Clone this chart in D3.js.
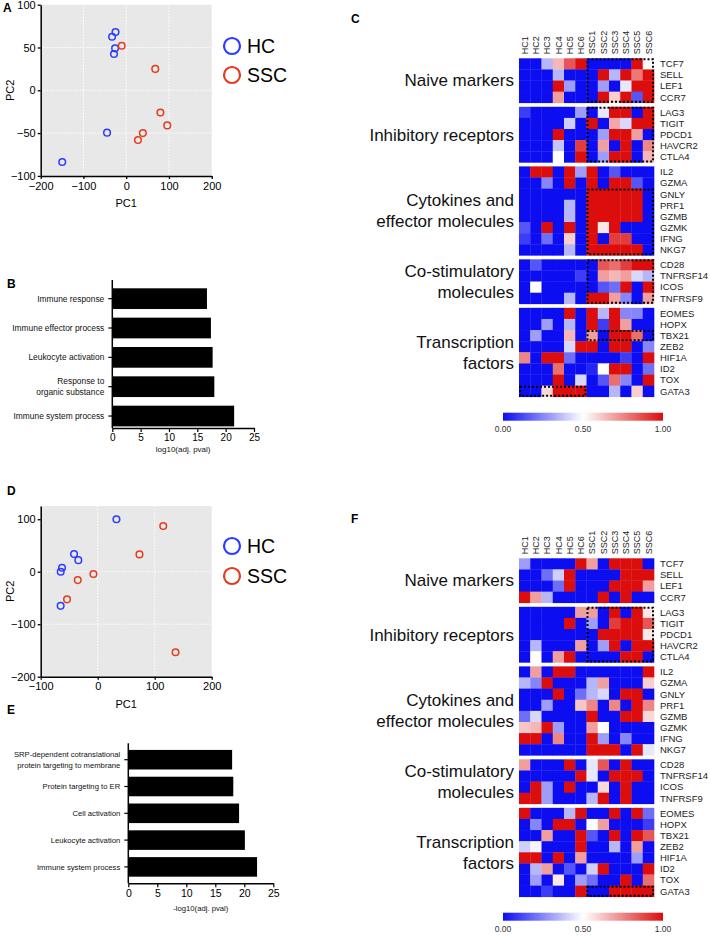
<!DOCTYPE html>
<html><head><meta charset="utf-8">
<script src="https://cdn.jsdelivr.net/npm/d3@7"></script>
<style>
body{margin:0;background:#fff}
svg{display:block;font-family:"Liberation Sans",Arial,Helvetica,sans-serif}
</style>
</head><body>
<svg id="fig" width="710" height="936"></svg>
<script>
// ---------------- DATA ----------------
// PCA panel A  [PC1, PC2]
const pcaA_HC  = [[-25,68],[-33,62.6],[-26,49],[-28.5,42.4],[-44.8,-49.5],[-149.6,-83.8]];
const pcaA_SSC = [[-10.5,52],[68,25],[80,-26],[96,-41],[39,-50],[27.5,-58]];
// PCA panel D
const pcaD_HC  = [[32.9,100],[-41.5,33.7],[-34,22],[-62.6,7.6],[-64.9,0],[-65,-65]];
const pcaD_SSC = [[115,87],[73.3,33],[-7.5,-4.4],[-35,-16],[-53.8,-52.6],[136.6,-153.5]];
const pcaA_xTicks = [-200,-100,0,100,200];
const pcaA_yTicks = [-100,-50,0,50,100];
const pcaD_xTicks = [-100,0,100,200];
const pcaD_yTicks = [-200,-100,0,100];
const legendLabels = ["HC","SSC"];

// GO bar charts
const termsB  = ["Immune response","Immune effector process","Leukocyte activation","Response to\norganic substance","Immune system process"];
const valuesB = [16.7,17.4,17.7,18.0,21.5];
const termsE  = ["SRP-dependent cotranslational\nprotein targeting to membrane","Protein targeting to ER","Cell activation","Leukocyte activation","Immune system process"];
const valuesE = [17.9,18.1,19.1,20.1,22.2];
const barTicks = [0,5,10,15,20,25];

// Heatmaps
const samples = ["HC1","HC2","HC3","HC4","HC5","HC6","SSC1","SSC2","SSC3","SSC4","SSC5","SSC6"];
const groupLabels = [["Naive markers"],["Inhibitory receptors"],["Cytokines and","effector molecules"],["Co-stimulatory","molecules"],["Transcription","factors"]];
const groupGenes = [
  ["TCF7","SELL","LEF1","CCR7"],
  ["LAG3","TIGIT","PDCD1","HAVCR2","CTLA4"],
  ["IL2","GZMA","GNLY","PRF1","GZMB","GZMK","IFNG","NKG7"],
  ["CD28","TNFRSF14","ICOS","TNFRSF9"],
  ["EOMES","HOPX","TBX21","ZEB2","HIF1A","ID2","TOX","GATA3"]
];
const heatC = [
  [0,0,0.35,0.65,0.85,1, 0,0,0,0,1,0.5],
  [0,0,0,0.35,0,0, 0,1,0.35,1,0.78,1],
  [0,0,0,1,0.3,0, 0,0.3,0,0.45,1,1],
  [0,0,0,0.7,0,0, 0,1,0.6,1,0.15,1],
  [0.1,0,0,0,0,0.3, 0,0.45,1,1,0,1],
  [0,0,0,0,0.4,0, 1,0,0.68,0.42,1,1],
  [0,0,0,1,0,0, 0,0.3,1,1,0.7,0],
  [0,0,0,0.38,0,0.9, 0,0.7,0,1,0,0.75],
  [0,0,0,0.5,0,1, 0,0.3,1,1,0,0.65],
  [0,1,1,0,1,0.3, 1,0,0.15,0,0,0],
  [0,0,0.25,0,1,0, 1,0,1,1,0.15,0],
  [0,0,0,0,0,0, 1,1,1,1,1,0],
  [0,0,0,0,0.35,0, 1,1,1,1,1,0],
  [0,0,0,0,0.35,0, 1,1,1,1,1,0],
  [0.15,0,1,0,1,0, 1,0.55,1,0,0,0],
  [0.1,0,0.2,0,0.6,0, 1,0,0.9,0.9,0,0],
  [0,0,0,0,0.35,0, 1,1,1,1,1,0],
  [0,0.15,0,0,0,0, 0,0.85,0.8,0.9,1,1],
  [0,0,0,0,0,0.1, 0,0.7,0.65,0.7,0.42,0.35],
  [0,0.5,0,0,0,0, 0,0.15,0.2,1,0,1],
  [0,0,0,0,0.35,0, 1,1,0.7,0.25,0,0.7],
  [0,0,0,0,1,0, 1,0.35,1,0.25,0.25,0],
  [0,0,0.3,0,0.35,0, 1,0.1,1,0.7,0,0],
  [0,0.3,0,0,0.65,0, 0.7,0,1,1,0.8,0],
  [0,0,0,0,0.42,1, 1,0,1,1,0,0.25],
  [0.75,0,1,1,0.2,0, 0,0,0,0.1,0,1],
  [0,0,0,0.8,0,0, 0.05,0.5,1,1,0,0.2],
  [0,0,0,1,0,0.42, 0,0.15,0.8,0.25,0,1],
  [0,0,0.58,1,1,1, 0,0,0.35,0,0.6,0]
];
const heatF = [
  [0.3,0,0,0,0,1, 0.7,0,1,1,1,0],
  [0,0,0.2,0.4,1,0, 0,0,0,1,1,1],
  [0,0,0,0.2,1,0, 0,0,1,1,1,0.7],
  [1,0.7,0.35,0,0,0, 0,1,0,1,0,0],
  [0,0,0,0,0,0.7, 0.7,0,1,0,1,0.55],
  [0,0,0,0,1,0, 0.3,0,0.9,1,1,0.85],
  [0,0,0,0,0,0, 0,1,1,1,1,0.55],
  [0,0.35,0,0,0,0.7, 0,0.3,1,0,1,1],
  [0,0.5,0,0.7,1,0, 0,0,0,1,1,0],
  [0,0.7,0,1,1,0, 0,0,0,0,0,1],
  [0.35,0.25,1,0,0,0, 0.35,0.7,0,0,0,0.6],
  [0,0,0,1,0,0.2, 0.35,0.42,0,1,1,0],
  [0,0,0.3,0,0,0.62, 0.75,0,0.75,0,1,0.75],
  [0.2,0.42,0,0,0,0, 1,0,0,1,1,0.58],
  [0.62,0.65,1,0.3,0,0, 0.7,0.5,0,0,0,0],
  [1,1,0,0.75,0,0, 1,0.3,0,0.25,0,0],
  [0,0,0,0,0,0, 1,1,1,0,1,0.45],
  [0.7,0,0,0,1,0, 0.45,0.85,0,1,0,0],
  [0,0,0,0,0,1, 0.45,0,1,1,1,0],
  [0,1,0.3,0,1,0, 0,0.58,0,1,0,0],
  [1,1,0.3,0,0,0, 0.35,1,0,1,0,0],
  [1,0,0,0,0.35,1, 0,0,1,0,1,0.2],
  [0,0.25,0,1,1,0, 0.5,0.7,0,0,0,0.1],
  [0,0,0.7,0,0,1, 0.15,0,1,0,1,0.85],
  [0.4,0.48,0,0,0,1, 0,0,0.35,0,0.7,0],
  [1,1,0,1,0,0.7, 0,0,0,0,0.3,0],
  [0,0.35,0.7,0,0.15,0, 0.4,1,0,0,0,1],
  [0,0.3,0,0.55,0,0.3, 0.2,0,0,1,0,0.8],
  [0,0,0.1,0,0,1, 0,0,1,1,1,1]
];
// dotted highlight boxes: [group, firstRow, lastRow, firstCol, lastCol]
const boxesC = [[0,0,3,6,11],[1,0,4,6,11],[2,2,7,6,11],[3,0,3,6,11],[4,2,2,6,11],[4,7,7,0,5]];
const boxesF = [[1,0,4,6,11],[4,7,7,6,11]];
const colorTicks = [0,0.5,1];

// ---------------- DRAWING ----------------
const svg = d3.select("#fig");
svg.append("rect").attr("width",710).attr("height",936).attr("fill","#fff");
const BLUE = "#2a3cff", RED = "#e63a1f";

function panelLetter(t, x, y){
  svg.append("text").attr("x",x).attr("y",y).attr("font-size",12).attr("font-weight","bold").text(t);
}

function pca(c){
  const g = svg.append("g");
  const x = d3.scaleLinear().domain(c.xDom).range([40.7, 211.7]);
  const y = d3.scaleLinear().domain(c.yDom).range([c.yBot, c.yTop]);
  g.append("rect").attr("x",x.range()[0]).attr("y",c.yTop)
    .attr("width",x.range()[1]-x.range()[0]).attr("height",c.yBot-c.yTop).attr("fill","#e8e8e8");
  const gx = c.xTicks.slice(1,-1), gy = c.yTicks.slice(1,-1);
  g.selectAll(".vg").data(gx).join("line").attr("x1",d=>x(d)).attr("x2",d=>x(d))
    .attr("y1",c.yTop).attr("y2",c.yBot).attr("stroke","#fff").attr("stroke-width",1).attr("stroke-dasharray","1.5,1.5");
  g.selectAll(".hg").data(gy).join("line").attr("y1",d=>y(d)).attr("y2",d=>y(d))
    .attr("x1",x.range()[0]).attr("x2",x.range()[1]).attr("stroke","#fff").attr("stroke-width",1).attr("stroke-dasharray","1.5,1.5");
  const ax = g.append("g").attr("transform",`translate(0,${c.yBot})`)
    .call(d3.axisBottom(x).tickValues(c.xTicks).tickSize(3).tickPadding(3).tickSizeOuter(0));
  const ay = g.append("g").attr("transform",`translate(${x.range()[0]},0)`)
    .call(d3.axisLeft(y).tickValues(c.yTicks).tickSize(3).tickPadding(2).tickSizeOuter(0));
  [ax,ay].forEach(a=>{
    a.select(".domain").attr("stroke","#000").attr("stroke-width",1.5);
    a.selectAll(".tick line").attr("stroke","#000").attr("stroke-width",1.3);
    a.selectAll("text").attr("font-size",11).attr("fill","#000").attr("font-family",null);
  });
  g.append("text").attr("x",(x.range()[0]+x.range()[1])/2).attr("y",c.yBot+31)
    .attr("text-anchor","middle").attr("font-size",11).text("PC1");
  g.append("text").attr("transform",`translate(14,${(c.yTop+c.yBot)/2}) rotate(-90)`)
    .attr("text-anchor","middle").attr("font-size",11).text("PC2");
  [[c.hc,BLUE],[c.ssc,RED]].forEach(([pts,col])=>{
    g.selectAll(null).data(pts).join("circle").attr("cx",d=>x(d[0])).attr("cy",d=>y(d[1]))
      .attr("r",3.3).attr("fill","none").attr("stroke",col).attr("stroke-width",1.5);
  });
  legendLabels.forEach((lab,i)=>{
    g.append("circle").attr("cx",232).attr("cy",c.legY[i]).attr("r",8)
      .attr("fill","none").attr("stroke",i?RED:BLUE).attr("stroke-width",2.2);
    g.append("text").attr("x",247).attr("y",c.legY[i]).attr("dy","0.36em")
      .attr("font-size",19.5).text(lab);
  });
}

function bars(c){
  const g = svg.append("g");
  const x = d3.scaleLinear().domain([0,25]).range([c.x0, c.x1]);
  const y = d3.scaleBand().domain(c.terms).range(c.band).paddingInner(c.pin).paddingOuter(c.pout);
  g.selectAll("rect").data(c.terms).join("rect")
    .attr("x",x(0)).attr("y",d=>y(d)).attr("height",y.bandwidth())
    .attr("width",(d,i)=>x(c.values[i])-x(0)).attr("fill","#000");
  const ax = g.append("g").attr("transform",`translate(0,${c.axisY})`)
    .call(d3.axisBottom(x).tickValues(barTicks).tickSize(4).tickPadding(2).tickSizeOuter(0));
  ax.select(".domain").attr("stroke","#000").attr("stroke-width",1.5);
  ax.selectAll(".tick line").attr("stroke","#000").attr("stroke-width",1.2);
  ax.selectAll("text").attr("font-size",c.tickFs).attr("fill","#000").attr("font-family",null);
  g.append("line").attr("x1",x(0)).attr("x2",x(0)).attr("y1",c.top).attr("y2",c.axisY)
    .attr("stroke","#000").attr("stroke-width",1.5);
  c.terms.forEach(t=>{
    const cy = y(t)+y.bandwidth()/2;
    g.append("line").attr("x1",x(0)-4).attr("x2",x(0)).attr("y1",cy).attr("y2",cy)
      .attr("stroke","#000").attr("stroke-width",1.2);
    const lines = t.split("\n");
    const tx = g.append("text").attr("text-anchor","end").attr("font-size",c.labFs).attr("fill","#111");
    lines.forEach((l,i)=>{
      tx.append("tspan").attr("x",x(0)-8)
        .attr("y",cy + (i-(lines.length-1)/2)*c.lh).attr("dy","0.35em").text(l);
    });
  });
  g.append("text").attr("x",(c.x0+c.x1)/2).attr("y",c.titleY).attr("text-anchor","middle")
    .attr("font-size",c.titleFs).attr("fill","#111").text(c.title);
}

const heatColor = d3.scaleLinear().domain([0,0.5,1]).range(["#0d0df2","#ffffff","#db0d0d"]);

function heatmap(values, boxes, top){
  const g = svg.append("g");
  const cellH = 11.12, gap = 4;
  const x = d3.scaleBand().domain(samples).range([519, 654]);
  const rows = [];
  groupGenes.forEach((genes,gi)=>genes.forEach((gene,ri)=>rows.push({gene,gi,ri,idx:rows.length})));
  const yb = d3.scaleBand().domain(rows.map(r=>r.idx)).range([0, rows.length*cellH]);
  const yPos = r => top + yb(r.idx) + r.gi*gap;
  rows.forEach(r=>{
    g.selectAll(null).data(values[r.idx]).join("rect")
      .attr("x",(d,i)=>x(samples[i])).attr("y",yPos(r))
      .attr("width",x.bandwidth()+0.3).attr("height",cellH+0.3)
      .attr("fill",d=>heatColor(d));
    g.append("text").attr("x",660).attr("y",yPos(r)+cellH/2).attr("dy","0.35em")
      .attr("font-size",9.5).attr("fill","#222").text(r.gene);
  });
  samples.forEach(s=>{
    g.append("text").attr("transform",`translate(${x(s)+x.bandwidth()/2},${top-4}) rotate(-90)`)
      .attr("text-anchor","start").attr("dy","0.35em").attr("font-size",9).attr("fill","#222")
      .attr("x",0).text(s).attr("text-anchor","start").attr("transform",
        `translate(${x(s)+x.bandwidth()/2},${top-4}) rotate(-90)`);
  });
  groupGenes.forEach((genes,gi)=>{
    const first = rows.find(r=>r.gi===gi), last = rows.filter(r=>r.gi===gi).pop();
    const cy = (yPos(first) + yPos(last)+cellH)/2;
    const lines = groupLabels[gi];
    const tx = g.append("text").attr("text-anchor","end").attr("font-size",17).attr("fill","#111");
    lines.forEach((l,i)=>{
      tx.append("tspan").attr("x",514).attr("y",cy+(i-(lines.length-1)/2)*21).attr("dy","0.35em").text(l);
    });
  });
  boxes.forEach(([gi,r0,r1,c0,c1])=>{
    const ra = rows.find(r=>r.gi===gi && r.ri===r0), rb = rows.find(r=>r.gi===gi && r.ri===r1);
    const x0 = x(samples[c0]), x1 = x(samples[c1])+x.bandwidth();
    const y0 = yPos(ra), y1 = yPos(rb)+cellH;
    g.append("rect").attr("x",x0+1).attr("y",y0+1).attr("width",x1-x0-2).attr("height",y1-y0-2)
      .attr("fill","none").attr("stroke","#000").attr("stroke-width",2).attr("stroke-dasharray","2,2");
  });
  // colour bar
  const cb = d3.scaleLinear().domain([0,1]).range([503, 663]);
  const gid = "grad"+top;
  const grad = svg.append("defs").append("linearGradient").attr("id",gid);
  d3.range(0,1.001,0.05).forEach(t=>grad.append("stop").attr("offset",t).attr("stop-color",heatColor(t)));
  const cbY = top + 354.4;
  g.append("rect").attr("x",cb(0)).attr("y",cbY).attr("width",cb(1)-cb(0)).attr("height",8).attr("fill",`url(#${gid})`);
  g.selectAll(".cbt").data(colorTicks).join("text").attr("x",d=>cb(d)).attr("y",cbY+19)
    .attr("text-anchor","middle").attr("font-size",8.5).attr("fill","#333").text(d=>d.toFixed(2));
}

// Panel A
panelLetter("A",3,12);
pca({xDom:[-200,200], yDom:[-100,100], yTop:4.7, yBot:175.9, xTicks:pcaA_xTicks, yTicks:pcaA_yTicks,
     hc:pcaA_HC, ssc:pcaA_SSC, legY:[46,75]});
// Panel B
panelLetter("B",7,288);
bars({x0:112.3, x1:254, band:[280,434.7], pin:0.294, pout:0.283, axisY:428, top:280,
      terms:termsB, values:valuesB, labFs:8.4, lh:10.5, tickFs:10, title:"log10(adj. pval)", titleY:452, titleFs:8});
// Panel C
panelLetter("C",351,23);
heatmap(heatC, boxesC, 58.3);
// Panel D
panelLetter("D",7,495);
pca({xDom:[-100,200], yDom:[-200,125], yTop:506.1, yBot:676.7, xTicks:pcaD_xTicks, yTicks:pcaD_yTicks,
     hc:pcaD_HC, ssc:pcaD_SSC, legY:[546,576]});
// Panel E
panelLetter("E",7,714);
bars({x0:128.3, x1:273.3, band:[743.3,883.3], pin:0.27, pout:0.247, axisY:883.3, top:743.3,
      terms:termsE, values:valuesE, labFs:7.7, lh:10.5, tickFs:10.5, title:"-log10(adj. pval)", titleY:911, titleFs:7.7});
// Panel F
panelLetter("F",351,523);
heatmap(heatF, boxesF, 558.3);
</script>
</body></html>
